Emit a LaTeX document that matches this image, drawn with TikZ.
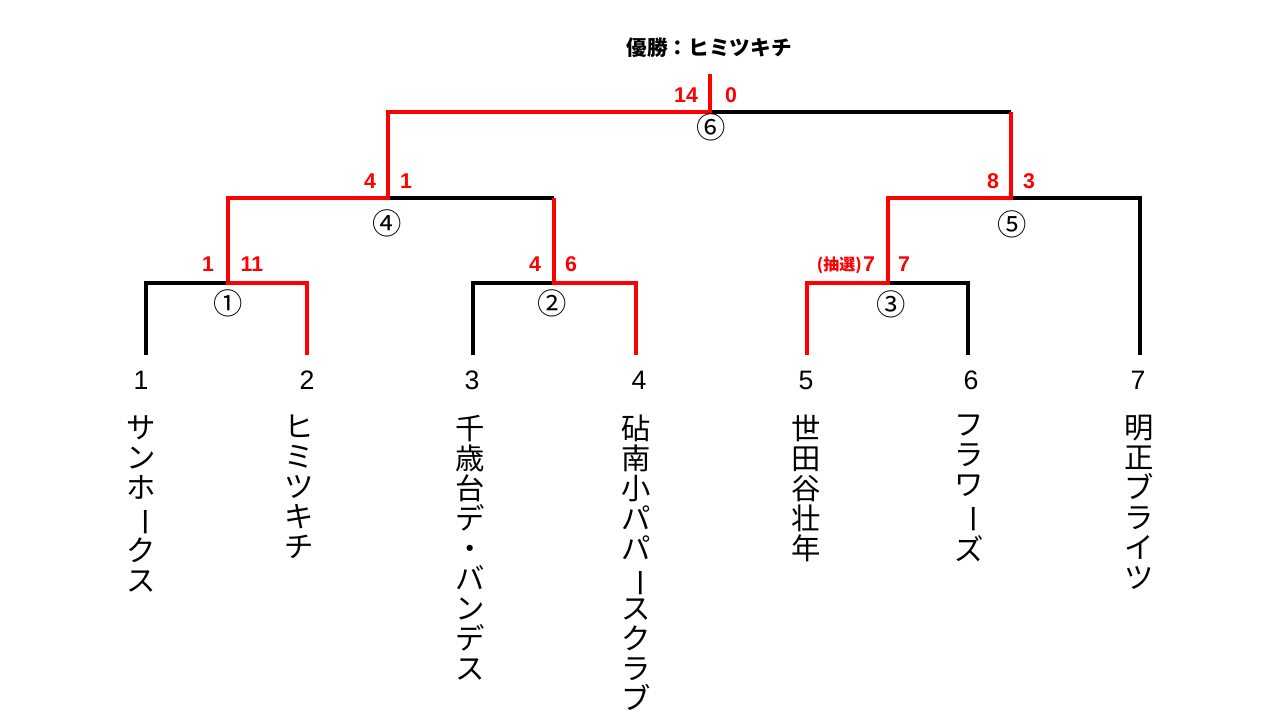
\documentclass[tikz,border=0pt]{standalone}
\usepackage{fontspec}
\newfontfamily\jp{Noto Sans CJK JP}
\newfontfamily\lib{Liberation Sans}
\newcommand\vch{\rotatebox[origin=c]{-90}{ー}}
\begin{document}
\begin{tikzpicture}[x=0.75pt,y=-0.75pt,
  blk/.style={draw=black,line width=2.3pt},
  win/.style={draw=red,line width=2.8pt},
  score/.style={text=red,font=\lib\bfseries\fontsize{16}{16}\selectfont,inner sep=0},
  lot/.style={text=red,font=\jp\bfseries\fontsize{12}{12}\selectfont,inner sep=0},
  circ/.style={font=\jp\fontsize{22}{22}\selectfont,inner sep=0},
  num/.style={font=\lib\fontsize{20}{20}\selectfont,inner sep=0},
  team/.style={font=\jp\fontsize{22}{22.5}\selectfont,align=center,anchor=north,inner sep=0},
  ttl/.style={font=\jp\bfseries\fontsize{15.5}{15.5}\selectfont,inner sep=0}]
\useasboundingbox (0,0) rectangle (1280,720);
% bracket points
\coordinate (L1) at (146,355);
\coordinate (L2) at (307,355);
\coordinate (L3) at (473,355);
\coordinate (L4) at (636,355);
\coordinate (L5) at (807,355);
\coordinate (L6) at (968,355);
\coordinate (L7) at (1140,355);
\coordinate (M1) at (228,283);
\coordinate (M2) at (554,283);
\coordinate (M3) at (888,283);
\coordinate (M4) at (388,198);
\coordinate (M5) at (1011,198);
\coordinate (M6) at (710,112);
\coordinate (Top) at (710,74);
% losing lines
\draw[blk] (L1) |- (M1);
\draw[blk] (L3) |- (M2);
\draw[blk] (L6) |- (M3);
\draw[blk] (L7) |- (M5);
\draw[blk] (M4) -- (M2 |- M4);
\draw[blk] (M6) -- (M5 |- M6);
% winning lines
\draw[win] (L2) |- (M1) |- (M4) |- (M6) -- (Top);
\draw[win] (L4) |- (M2) -- (M2 |- M4);
\draw[win] (L5) |- (M3) |- (M5) -- (M5 |- M6);
% title
\node[ttl] (title) at (709,48) {優勝：ヒミツキチ};
% match numbers
\node[circ] (c1) at (228,303) {①};
\node[circ] (c2) at (552,303) {②};
\node[circ] (c3) at (891,304) {③};
\node[circ] (c4) at (387,223) {④};
\node[circ] (c5) at (1012,224) {⑤};
\node[circ] (c6) at (711,127) {⑥};
% scores
\node[score] (s6a) at (686,95) {14};
\node[score] (s6b) at (731,95) {0};
\node[score] (s4a) at (370,181) {4};
\node[score] (s4b) at (406,181) {1};
\node[score] (s5a) at (993,181) {8};
\node[score] (s5b) at (1029,181) {3};
\node[score] (s1a) at (208,264) {1};
\node[score] (s1b) at (252,264) {11};
\node[score] (s2a) at (535,264) {4};
\node[score] (s2b) at (571,264) {6};
\node[score] (s3a) at (869,264) {7};
\node[lot,anchor=east] (s3l) at (862,265) {(抽選)};
\node[score] (s3b) at (904,264) {7};
% seed numbers
\node[num] (n1) at (141,380) {1};
\node[num] (n2) at (307,380) {2};
\node[num] (n3) at (472,380) {3};
\node[num] (n4) at (639,380) {4};
\node[num] (n5) at (806,380) {5};
\node[num] (n6) at (971,380) {6};
\node[num] (n7) at (1138,380) {7};
% team names
\node[team] (t1) at (141,415) {サ\\ン\\ホ\\\vch\\ク\\ス};
\node[team] (t2) at (299,415) {ヒ\\ミ\\ツ\\キ\\チ};
\node[team] (t3) at (470,415) {千\\歳\\台\\デ\\・\\バ\\ン\\デ\\ス};
\node[team] (t4) at (636,415) {砧\\南\\小\\パ\\パ\\\vch\\ス\\ク\\ラ\\ブ};
\node[team] (t5) at (806,415) {世\\田\\谷\\壮\\年};
\node[team] (t6) at (969,415) {フ\\ラ\\ワ\\\vch\\ズ};
\node[team] (t7) at (1139,415) {明\\正\\ブ\\ラ\\イ\\ツ};
\end{tikzpicture}
\end{document}
